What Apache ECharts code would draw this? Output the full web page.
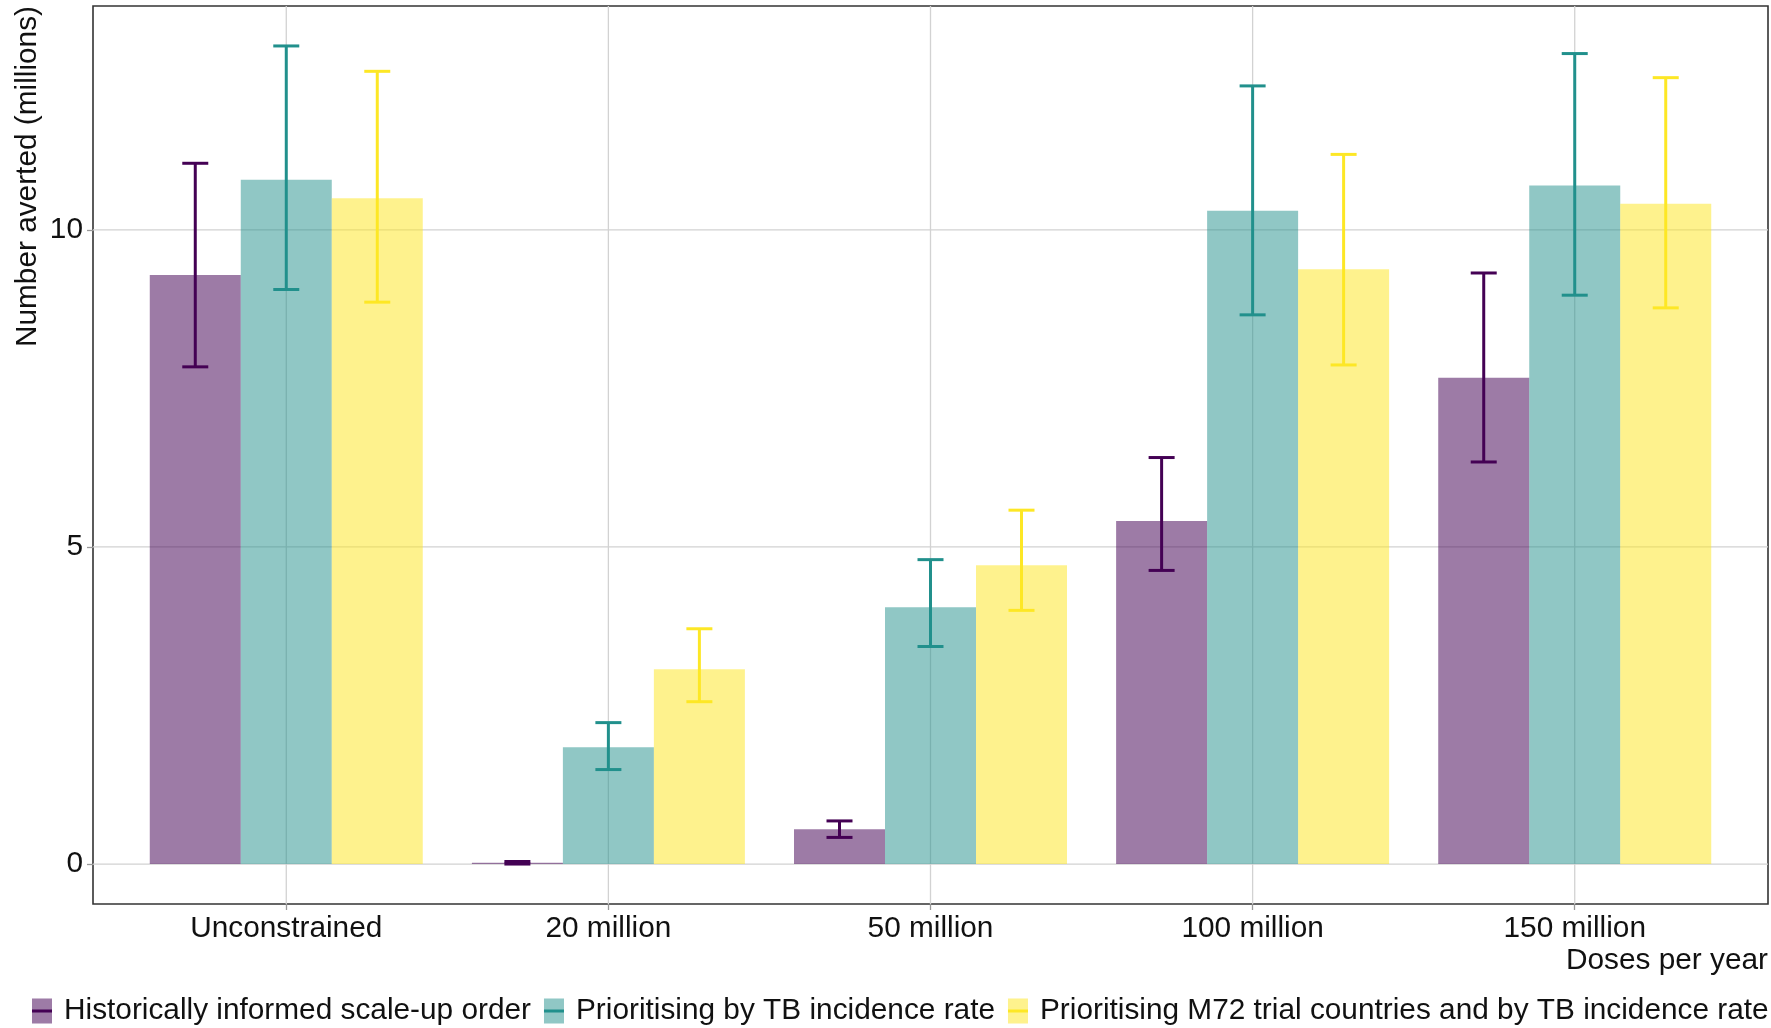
<!DOCTYPE html>
<html><head><meta charset="utf-8">
<script src="https://cdn.jsdelivr.net/npm/echarts@6/dist/echarts.min.js"></script>
<style>html,body{margin:0;padding:0;background:#fff}#c{width:1771px;height:1028px}</style>
</head><body><div id="c"></div>
<script>
const categories = ['Unconstrained', '20 million', '50 million', '100 million', '150 million'];
const seriesNames = ['Historically informed scale-up order', 'Prioritising by TB incidence rate', 'Prioritising M72 trial countries and by TB incidence rate'];
const historicalMean = [9.29, 0.02, 0.55, 5.41, 7.67];
const historicalLow  = [7.84, 0.00, 0.42, 4.63, 6.34];
const historicalHigh = [11.05, 0.04, 0.68, 6.41, 9.32];
const incidenceMean = [10.79, 1.84, 4.05, 10.30, 10.70];
const incidenceLow  = [9.06, 1.49, 3.43, 8.66, 8.97];
const incidenceHigh = [12.90, 2.23, 4.80, 12.27, 12.78];
const m72Mean = [10.50, 3.07, 4.71, 9.38, 10.41];
const m72Low  = [8.86, 2.56, 4.00, 7.87, 8.77];
const m72High = [12.50, 3.71, 5.58, 11.19, 12.40];
const yTicks = [0, 5, 10];
const xAxisTitle = 'Doses per year';
const yAxisTitle = 'Number averted (millions)';

const FONT = '"Liberation Sans", Arial, Helvetica, sans-serif';
const FS = 29.8;
const lineColors = ['#440154', '#21908C', '#FDE725'];
const fillColors = ['rgba(68,1,84,0.52)', 'rgba(33,144,140,0.5)', 'rgba(253,231,37,0.52)'];
const BAR_W = 91;
const xPos = categories.map((c, i) => i + 1);

const means = [historicalMean, incidenceMean, m72Mean];
const lows = [historicalLow, incidenceLow, m72Low];
const highs = [historicalHigh, incidenceHigh, m72High];

const chart = echarts.init(document.getElementById('c'), null, {renderer: 'canvas'});

const series = [];
// horizontal gridlines
series.push({
  type: 'custom', silent: true, z: 1, clip: false,
  data: yTicks.map(v => [1, v]), encode: {x: 0, y: 1},
  renderItem(params, api) {
    const cs = params.coordSys;
    const y = api.coord([1, api.value(1)])[1];
    return {type: 'line', shape: {x1: cs.x, y1: y, x2: cs.x + cs.width, y2: y},
      style: {stroke: '#d2d2d2', lineWidth: 1.3}};
  }
});
// vertical gridlines
series.push({
  type: 'custom', silent: true, z: 1, clip: false,
  data: xPos.map(x => [x, 0]), encode: {x: 0, y: 1},
  renderItem(params, api) {
    const cs = params.coordSys;
    const x = api.coord([api.value(0), 0])[0];
    return {type: 'line', shape: {x1: x, y1: cs.y, x2: x, y2: cs.y + cs.height},
      style: {stroke: '#d2d2d2', lineWidth: 1.3}};
  }
});
// bars
for (let s = 0; s < 3; s++) {
  series.push({
    name: seriesNames[s], type: 'bar', z: 2, silent: true,
    barWidth: BAR_W, barGap: '0%',
    itemStyle: {color: fillColors[s], borderWidth: 0},
    data: means[s].map((v, i) => [xPos[i], v])
  });
}
// error bars
for (let s = 0; s < 3; s++) {
  const offset = (s - 1) * BAR_W;
  const col = lineColors[s];
  series.push({
    name: seriesNames[s], type: 'custom', z: 3, silent: true,
    data: lows[s].map((l, i) => [xPos[i], l, highs[s][i]]),
    encode: {x: 0, y: [1, 2]},
    renderItem(params, api) {
      const x = api.value(0);
      const p1 = api.coord([x, api.value(1)]);
      const p2 = api.coord([x, api.value(2)]);
      const cx = p1[0] + offset;
      const hw = 13;
      const st = {stroke: col, lineWidth: 3, lineCap: 'butt'};
      return {type: 'group', children: [
        {type: 'line', shape: {x1: cx, y1: p1[1], x2: cx, y2: p2[1]}, style: st},
        {type: 'line', shape: {x1: cx - hw, y1: p1[1], x2: cx + hw, y2: p1[1]}, style: st},
        {type: 'line', shape: {x1: cx - hw, y1: p2[1], x2: cx + hw, y2: p2[1]}, style: st}
      ]};
    }
  });
}

const boxIcon = 'path://M0,0L20,0L20,25L0,25Z M26.99,0L27,0L27,0.01L26.99,0.01Z';
const dashIcon = 'path://M0,0L0.01,0L0.01,0.01L0,0.01Z M26.99,24.99L27,24.99L27,25L26.99,25Z M0,11L20,11L20,14L0,14Z';
const legendBase = {
  left: 32, top: 996, padding: 0, orient: 'horizontal',
  itemWidth: 27, itemHeight: 25, itemGap: 13, selectedMode: false
};

chart.setOption({
  animation: false,
  backgroundColor: '#fff',
  textStyle: {fontFamily: FONT},
  grid: {left: 93, right: 3, top: 6, bottom: 124, show: true, borderColor: '#333', borderWidth: 1.6, containLabel: false},
  xAxis: {
    type: 'value', min: 0.4, max: 5.6,
    axisLine: {show: false, onZero: false},
    splitLine: {show: false},
    axisTick: {show: true, customValues: xPos, length: 6, lineStyle: {color: '#999', width: 1.3}},
    axisLabel: {show: true, customValues: xPos, margin: 10, fontSize: FS, fontFamily: FONT, color: '#111',
      formatter: v => categories[Math.round(v) - 1] || ''}
  },
  yAxis: {
    type: 'value', min: -0.63, max: 13.53,
    axisLine: {show: false, onZero: false},
    splitLine: {show: false},
    axisTick: {show: true, customValues: yTicks, length: 6, lineStyle: {color: '#999', width: 1.3}},
    axisLabel: {show: true, customValues: yTicks, margin: 10, fontSize: FS, fontFamily: FONT, color: '#111',
      formatter: v => String(v)}
  },
  legend: [
    Object.assign({}, legendBase, {
      icon: boxIcon, z: 4,
      textStyle: {fontSize: FS, fontFamily: FONT, color: '#111'},
      data: seriesNames.map((n, i) => ({name: n, icon: boxIcon, itemStyle: {color: fillColors[i], borderWidth: 0, opacity: 1}}))
    }),
    Object.assign({}, legendBase, {
      icon: dashIcon, z: 5,
      textStyle: {fontSize: FS, fontFamily: FONT, color: 'rgba(0,0,0,0)'},
      data: seriesNames.map((n, i) => ({name: n, icon: dashIcon, itemStyle: {color: lineColors[i], borderWidth: 0, opacity: 1}}))
    })
  ],
  graphic: [
    {type: 'text', x: 28, y: 6, rotation: Math.PI / 2, silent: true,
      style: {text: yAxisTitle, font: FS + 'px ' + FONT, fill: '#111', align: 'right', verticalAlign: 'middle'}},
    {type: 'text', x: 1768, y: 961, silent: true,
      style: {text: xAxisTitle, font: FS + 'px ' + FONT, fill: '#111', align: 'right', verticalAlign: 'middle'}}
  ],
  series: series
});
</script></body></html>
